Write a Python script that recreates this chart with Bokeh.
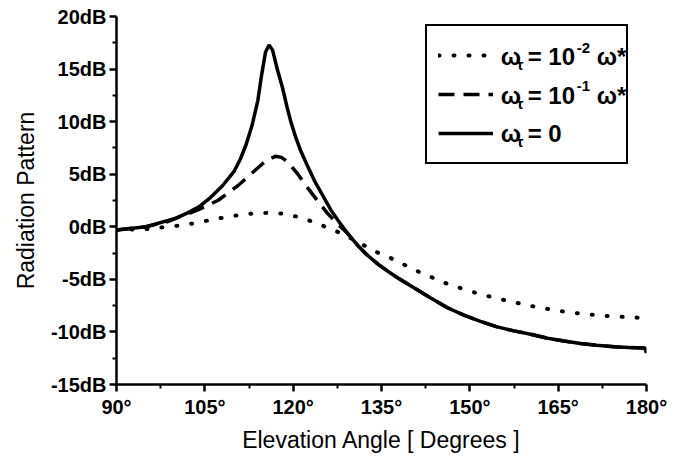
from bokeh.plotting import figure
from bokeh.models import Range1d, FixedTicker, Legend, LegendItem, Label
from bokeh.embed import file_html
from bokeh.resources import INLINE

# ---------------- data ----------------
solid_angle = [90, 95, 100, 102, 104, 106, 108, 110, 111, 112, 113, 114, 114.6, 115.3,
               115.9, 116.5, 117.3, 118.2, 119.0, 119.6, 120.5, 121.3, 122.5, 123.6,
               125.0, 126.4, 128.0, 129.2, 131.0, 132.6, 134.5, 136.0, 138.0, 140.5,
               143.0, 146.2, 149.0, 151.8, 154.5, 157.5, 160.5, 163.2, 166.0, 168.8,
               171.5, 174.5, 177.0, 179.7, 180]
solid_db = [-0.3, 0.0, 0.8, 1.3, 1.9, 2.8, 3.9, 5.3, 6.4, 7.8, 9.6, 12.0, 14.3, 16.6,
            17.3, 16.8, 15.0, 13.2, 11.3, 10.0, 8.4, 7.2, 5.7, 4.4,
            3.0, 1.6, 0.3, -0.6, -1.8, -2.7, -3.6, -4.2, -4.95, -5.8,
            -6.65, -7.7, -8.4, -9.0, -9.5, -9.9, -10.25, -10.6, -10.87, -11.1,
            -11.26, -11.4, -11.47, -11.52, -12.0]

dash_angle = [90, 95, 98.7, 101, 103.8, 107.2, 110.6, 113.4, 114.8, 115.7, 117.0, 118.0,
              119.0, 120.8, 122.4, 124.1, 125.8, 127.5, 129.2, 131.0, 132.6, 134.5,
              136.0, 138.0, 140.5, 143.0, 146.2, 149.0, 151.8, 154.5, 157.5, 160.5,
              163.2, 166.0, 168.8, 171.5, 174.5, 177.0, 179.7, 180]
dash_db = [-0.3, 0.0, 0.5, 1.0, 1.6, 2.5, 3.9, 5.3, 6.0, 6.4, 6.7, 6.6,
           6.2, 5.0, 3.75, 2.5, 1.3, 0.3, -0.6, -1.8, -2.7, -3.6,
           -4.2, -4.95, -5.8, -6.65, -7.7, -8.4, -9.0, -9.5, -9.9, -10.25,
           -10.6, -10.87, -11.1, -11.26, -11.4, -11.47, -11.52, -12.0]

dot_angle = [90, 95.3, 100.4, 102.9, 105.5, 108.0, 110.6, 113.1, 115.7, 118.2, 120.8,
             123.3, 126.1, 128.7, 131.2, 133.7, 136.3, 141.4, 146.5, 151.7, 156.8,
             161.9, 167.0, 172.2, 177.3, 180]
dot_db = [-0.3, -0.2, 0.1, 0.3, 0.6, 0.86, 1.1, 1.26, 1.33, 1.26, 0.95,
          0.49, -0.14, -0.76, -1.5, -2.3, -2.9, -4.3, -5.5, -6.4, -7.1,
          -7.7, -8.15, -8.45, -8.6, -8.7]

x_ticks = [90, 105, 120, 135, 150, 165, 180]
x_tick_labels = ["90°", "105°", "120°", "135°", "150°", "165°", "180°"]
x_minor = [97.5, 112.5, 127.5, 142.5, 157.5, 172.5]
y_ticks = [-15, -10, -5, 0, 5, 10, 15, 20]
y_tick_labels = ["-15dB", "-10dB", "-5dB", "0dB", "5dB", "10dB", "15dB", "20dB"]
y_minor = [-12.5, -7.5, -2.5, 2.5, 7.5, 12.5, 17.5]

x_title = "Elevation Angle [ Degrees ]"
y_title = "Radiation Pattern"

FONT = "Liberation Sans"

p = figure(frame_width=530, frame_height=368, x_range=Range1d(90, 180), y_range=Range1d(-15, 20),
           output_backend="svg", toolbar_location=None,
           min_border_left=116, min_border_right=31, min_border_top=16, min_border_bottom=72)
p.xgrid.visible = False
p.ygrid.visible = False
p.outline_line_color = None
p.background_fill_color = "white"
p.border_fill_color = "white"

r_dot = p.line(dot_angle, dot_db, line_color="black", line_width=4,
               line_dash="1 14", line_cap="round")
r_dash = p.line(dash_angle, dash_db, line_color="black", line_width=3.5,
                line_dash="16 9")
r_solid = p.line(solid_angle, solid_db, line_color="black", line_width=3.5)

p.xaxis.ticker = FixedTicker(ticks=x_ticks, minor_ticks=x_minor)
p.yaxis.ticker = FixedTicker(ticks=y_ticks, minor_ticks=y_minor)
p.xaxis.major_label_overrides = dict(zip(x_ticks, x_tick_labels))
p.yaxis.major_label_overrides = dict(zip(y_ticks, y_tick_labels))
p.xaxis.axis_label = x_title
p.yaxis.axis_label = y_title

for ax in (p.xaxis[0], p.yaxis[0]):
    ax.axis_line_color = "black"
    ax.axis_line_width = 2.5
    ax.major_tick_line_color = "black"
    ax.major_tick_line_width = 2.5
    ax.major_tick_out = 7
    ax.major_tick_in = 0
    ax.minor_tick_line_color = "black"
    ax.minor_tick_line_width = 2
    ax.minor_tick_out = 4
    ax.minor_tick_in = 0
    ax.major_label_text_font = FONT
    ax.major_label_text_font_style = "bold"
    ax.major_label_text_font_size = "20px"
    ax.major_label_text_color = "black"
    ax.axis_label_text_font = FONT
    ax.axis_label_text_font_style = "normal"
    ax.axis_label_text_font_size = "23px"
    ax.axis_label_text_color = "black"

p.xaxis.major_label_standoff = 4
p.xaxis.axis_label_standoff = 6
p.yaxis.major_label_standoff = 3
p.yaxis.axis_label_standoff = 9

legend = Legend(items=[LegendItem(label=" ", renderers=[r_dot]),
                       LegendItem(label=" ", renderers=[r_dash]),
                       LegendItem(label=" ", renderers=[r_solid])],
                location=(309, 220), padding=11, spacing=3, glyph_height=36,
                glyph_width=55, label_standoff=8, label_width=114, margin=0,
                border_line_color="black", border_line_width=2, border_line_alpha=1,
                background_fill_color="white", background_fill_alpha=0,
                label_text_font_size="10px")
p.add_layout(legend)

# legend text with sub/superscripts
x0 = 155.24
rows = [16.17, 12.53, 8.89]
row_parts = [
    [("ω", 0, 0, 24), ("τ", 16, -8, 15), ("= 10", 27, 0, 24), ("-2", 76, 9, 15), ("ω*", 96, 0, 24)],
    [("ω", 0, 0, 24), ("τ", 16, -8, 15), ("= 10", 27, 0, 24), ("-1", 76, 9, 15), ("ω*", 96, 0, 24)],
    [("ω", 0, 0, 24), ("τ", 16, -8, 15), ("= 0", 27, 0, 24)],
]
for yy, parts in zip(rows, row_parts):
    for txt, dx, dy, fs in parts:
        p.add_layout(Label(x=x0, y=yy, x_offset=dx, y_offset=dy, text=txt,
                           text_font=FONT, text_font_style="bold",
                           text_font_size=f"{fs}px", text_baseline="middle",
                           text_align="left", text_color="black"))

open("out.html", "w").write(file_html(p, INLINE))
